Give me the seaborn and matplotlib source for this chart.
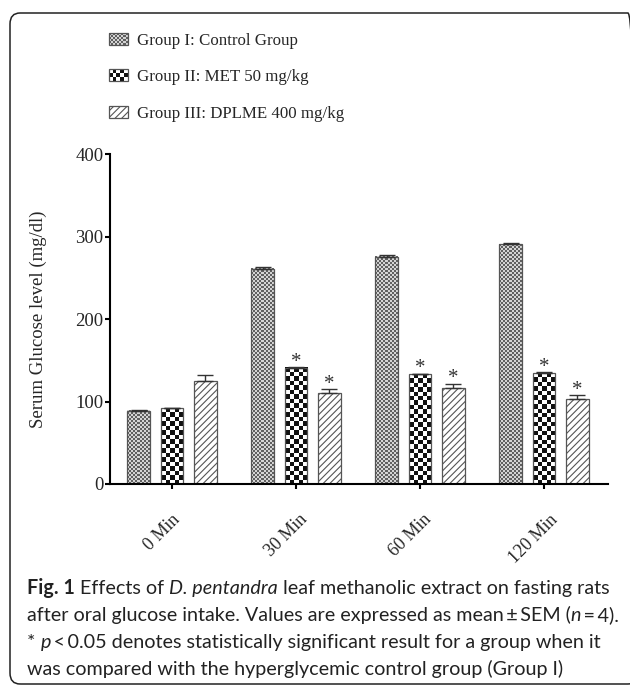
import numpy as np
import pandas as pd
import seaborn as sns
import matplotlib.pyplot as plt
from matplotlib import font_manager
from matplotlib.colors import ListedColormap
from matplotlib.patches import FancyBboxPatch, Rectangle, Patch
from matplotlib.legend_handler import HandlerBase
from matplotlib.transforms import ScaledTranslation

# data (mean and SEM, mg/dl)
times = ['0 Min', '30 Min', '60 Min', '120 Min']
groups = ['Group I: Control Group', 'Group II: MET 50 mg/kg', 'Group III: DPLME 400 mg/kg']
control = [89, 261, 276, 291]
met = [92, 141, 133, 134.5]
dplme = [125, 111, 117, 103]
control_sem = [1.0, 2.0, 2.0, 1.2]
met_sem = [0.8, 1.0, 1.0, 1.0]
dplme_sem = [7.3, 3.7, 4.5, 4.4]
# * p < 0.05 vs Group I
met_sig = [False, True, True, True]
dplme_sig = [False, True, True, True]

caption = [
    [('Fig. 1', 'b'), (' Effects of ', 'n'), ('D. pentandra', 'i'),
     (' leaf methanolic extract on fasting rats', 'n')],
    [('after oral glucose intake. Values are expressed as mean\u2009\u00b1\u2009SEM (', 'n'),
     ('n', 'i'), ('\u2009=\u20094).', 'n')],
    [('* ', 'n'), ('p', 'i'), ('\u2009<\u20090.05 denotes statistically significant result for a group when it', 'n')],
    [('was compared with the hyperglycemic control group (Group I)', 'n')],
]

df = pd.DataFrame({
    'time': times * 3,
    'group': [g for g in groups for _ in times],
    'value': control + met + dplme,
})
sems = [control_sem, met_sem, dplme_sem]
sigs = [None, met_sig, dplme_sig]

sns.set_style('white')
plt.rcParams['font.family'] = ['Liberation Serif', 'DejaVu Serif']
plt.rcParams['hatch.linewidth'] = 0.8

available = {f.name for f in font_manager.fontManager.ttflist}
cap_family = ['Liberation Sans Narrow'] if 'Liberation Sans Narrow' in available else ['Lato']
cap_family = cap_family + ['DejaVu Sans']

W, H = 630, 685
fig = plt.figure(figsize=(6.3, 6.85), dpi=100)
ax = fig.add_axes([110 / W, 1 - 484 / H, (608 - 110) / W, (484 - 154.3) / H])

sns.barplot(data=df, x='time', y='value', hue='group', order=times, hue_order=groups,
            palette=['white', 'white', 'white'], edgecolor='#555555', linewidth=0.9,
            width=0.81, gap=0.33, errorbar=None, legend=False, ax=ax)

ax.set_xlim(-0.5, 3.516)
ax.set_ylim(0, 400)
ax.set_yticks([0, 100, 200, 300, 400])
sns.despine(ax=ax)
for s in ['left', 'bottom']:
    ax.spines[s].set_linewidth(1.5)
    ax.spines[s].set_color('black')
ax.tick_params(axis='both', direction='out', length=3.6, width=1.5, color='black',
               labelsize=13.5, left=True, bottom=True)
ax.tick_params(axis='y', pad=1)
ax.tick_params(axis='x', pad=16, labelsize=13)
ax.set_xlabel('')
ax.set_ylabel('Serum Glucose level (mg/dl)', fontsize=13.5)
ax.yaxis.set_label_coords((47 - 110) / 498, 0.5)
ax.set_xticks(range(len(times)))
ax.set_xticklabels(times, rotation=45, ha='center', va='top')
for lab in ax.get_xticklabels():
    lab.set_transform(lab.get_transform() + ScaledTranslation(-10 / 100, 0, fig.dpi_scale_trans))


def checker_fill(patch, cell_px, dark, light):
    bb = patch.get_window_extent()
    ncols = max(1, int(round(bb.width / cell_px)))
    nrows = max(1, int(round(bb.height / cell_px)))
    arr = np.add.outer(np.arange(nrows), np.arange(ncols)) % 2
    x0 = patch.get_x()
    ax.imshow(arr, cmap=ListedColormap([light, dark]), extent=(x0, x0 + patch.get_width(), 0, patch.get_height()),
              origin='lower', interpolation='nearest', aspect='auto', zorder=0.9, clip_path=patch)
    patch.set_facecolor('none')


fills = [(2.0, '#606060', '#d4d4d4'), (4.4, '#111111', '#ffffff')]
bar_containers = list(ax.containers)
for i, cont in enumerate(bar_containers):
    xs, ys = [], []
    for j, patch in enumerate(cont.patches):
        patch.set_zorder(1)
        if i < 2:
            checker_fill(patch, *fills[i])
        else:
            patch.set_hatch('/////')
        xs.append(patch.get_x() + patch.get_width() / 2)
        ys.append(patch.get_height())
    ax.errorbar(xs, ys, yerr=[np.zeros(len(ys)), sems[i]], fmt='none', ecolor='#333333',
                elinewidth=1, capsize=6, capthick=1, zorder=2)
    if sigs[i] is not None:
        for x, y, e, s in zip(xs, ys, sems[i], sigs[i]):
            if s:
                ax.text(x, y + e + 0.5, '*', ha='center', va='baseline', fontsize=15, color='#333333')

ax.set_xlim(-0.5, 3.516)
ax.set_ylim(0, 400)


class CheckerHandler(HandlerBase):
    def __init__(self, ncols, nrows, dark, light):
        super().__init__()
        self.ncols, self.nrows, self.dark, self.light = ncols, nrows, dark, light

    def create_artists(self, legend, orig_handle, xdescent, ydescent, width, height, fontsize, trans):
        x0, y0 = -xdescent, -ydescent
        arts = [Rectangle((x0, y0), width, height, facecolor=self.light, edgecolor='none', transform=trans)]
        cw, ch = width / self.ncols, height / self.nrows
        for r in range(self.nrows):
            for c in range(self.ncols):
                if (r + c) % 2:
                    arts.append(Rectangle((x0 + c * cw, y0 + r * ch), cw, ch, facecolor=self.dark,
                                          edgecolor='none', transform=trans))
        arts.append(Rectangle((x0, y0), width, height, facecolor='none', edgecolor='#555555',
                              linewidth=0.9, transform=trans))
        return arts


h1 = Patch(facecolor='white', edgecolor='#555555')
h2 = Patch(facecolor='white', edgecolor='#555555')
h3 = Patch(facecolor='white', edgecolor='#555555', hatch='/////', linewidth=0.9)
fig.legend([h1, h2, h3], groups, loc='upper left', bbox_to_anchor=(109 / W, 1 - 33 / H),
           frameon=False, borderpad=0, borderaxespad=0, handlelength=1.1, handleheight=0.7,
           handletextpad=0.55, labelspacing=1.2, fontsize=12.2,
           handler_map={h1: CheckerHandler(9, 6, '#606060', '#d4d4d4'),
                        h2: CheckerHandler(5, 3, '#111111', '#ffffff')})

# rounded frame around the figure and its caption (right side runs past the image edge)
fig.patches.append(FancyBboxPatch((10 / W, 1 - 684 / H), 628 / W, (684 - 13) / H,
                                  boxstyle='round,pad=0,rounding_size=0.016',
                                  transform=fig.transFigure, facecolor='none',
                                  edgecolor='#222222', linewidth=1.1, zorder=0))

renderer = fig.canvas.get_renderer()


def draw_line(x_px, y_px, parts, size):
    x = x_px
    texts = []
    for txt, style in parts:
        t = fig.text(x / W, 1 - y_px / H, txt, fontsize=size, family=cap_family,
                     fontweight='bold' if style == 'b' else 'normal',
                     fontstyle='italic' if style == 'i' else 'normal',
                     va='baseline', ha='left', color='#222222')
        x += t.get_window_extent(renderer).width
        texts.append(t)
    return x, texts


end, tmp = draw_line(27, 594, caption[0], 14)
for t in tmp:
    t.remove()
cap_size = 14 * (612 - 27) / (end - 27)
for k, parts in enumerate(caption):
    draw_line(27, 594 + 27 * k, parts, cap_size)

fig.savefig('out.png', dpi=100)
